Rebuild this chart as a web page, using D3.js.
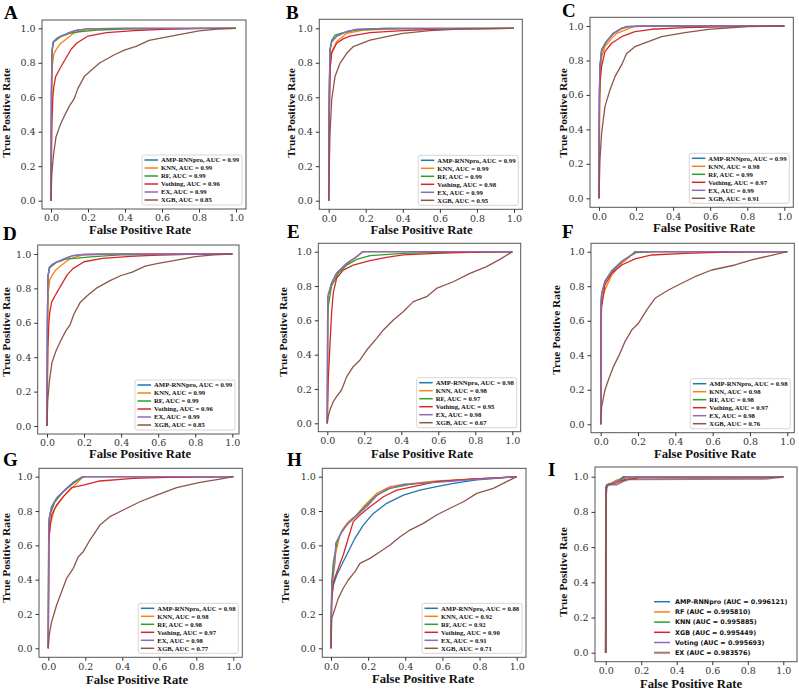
<!DOCTYPE html>
<html><head><meta charset="utf-8">
<script src="https://cdn.jsdelivr.net/npm/d3@7/dist/d3.min.js"></script>
<style>html,body{margin:0;padding:0;background:#fff;}svg{display:block;}</style>
</head><body>
<svg id="chart" width="799" height="691"></svg>
<script>
// ---------- data ----------
const ticks = [0, 0.2, 0.4, 0.6, 0.8, 1.0];
const tickLabels = ["0.0", "0.2", "0.4", "0.6", "0.8", "1.0"];
const seriesAH = ["AMP-RNNpro", "KNN", "RF", "Vothing", "EX", "XGB"];
const seriesI = ["AMP-RNNpro", "RF", "KNN", "XGB", "Voting", "EX"];
const aucA = ["0.99", "0.99", "0.99", "0.96", "0.99", "0.85"];
const aucB = ["0.99", "0.99", "0.99", "0.98", "0.99", "0.95"];
const aucC = ["0.99", "0.98", "0.99", "0.97", "0.99", "0.91"];
const aucD = ["0.99", "0.99", "0.99", "0.96", "0.99", "0.85"];
const aucE = ["0.98", "0.98", "0.97", "0.95", "0.98", "0.67"];
const aucF = ["0.98", "0.98", "0.98", "0.97", "0.98", "0.76"];
const aucG = ["0.98", "0.98", "0.98", "0.97", "0.98", "0.77"];
const aucH = ["0.88", "0.92", "0.92", "0.90", "0.91", "0.71"];
const aucI = ["0.996121", "0.995810", "0.995885", "0.995449", "0.995693", "0.983576"];

const curvesA = [
  [[0,0],[0.002,0.6],[0.005,0.86],[0.012,0.92],[0.03,0.94],[0.05,0.952],[0.08,0.965],[0.1,0.975],[0.14,0.99],[0.2,0.997],[0.4,1],[1,1]],
  [[0,0],[0.003,0.5],[0.007,0.78],[0.015,0.85],[0.03,0.88],[0.05,0.91],[0.085,0.94],[0.12,0.97],[0.16,0.985],[0.2,0.995],[0.3,1],[1,1]],
  [[0,0],[0.003,0.7],[0.006,0.88],[0.015,0.92],[0.05,0.95],[0.1,0.97],[0.15,0.98],[0.25,0.99],[0.4,0.995],[1,1]],
  [[0,0],[0.005,0.45],[0.01,0.6],[0.015,0.66],[0.025,0.72],[0.05,0.77],[0.085,0.835],[0.11,0.88],[0.14,0.915],[0.2,0.955],[0.3,0.975],[0.45,0.986],[0.6,0.994],[0.8,0.999],[1,1]],
  [[0,0],[0.002,0.62],[0.005,0.86],[0.012,0.922],[0.03,0.94],[0.05,0.953],[0.08,0.966],[0.1,0.976],[0.14,0.99],[0.2,0.997],[0.4,1],[1,1]],
  [[0,0],[0.004,0.15],[0.013,0.26],[0.027,0.37],[0.05,0.44],[0.076,0.5],[0.1,0.55],[0.125,0.59],[0.145,0.65],[0.18,0.72],[0.22,0.76],[0.265,0.8],[0.34,0.845],[0.4,0.875],[0.46,0.895],[0.53,0.93],[0.6,0.945],[0.7,0.965],[0.8,0.985],[0.9,0.995],[1,1]]
];
const curvesB = [
  [[0,0],[0.003,0.6],[0.007,0.87],[0.016,0.92],[0.043,0.955],[0.097,0.98],[0.15,0.994],[0.3,1],[1,1]],
  [[0,0],[0.003,0.5],[0.008,0.78],[0.016,0.865],[0.043,0.923],[0.097,0.97],[0.187,0.99],[0.4,0.998],[1,1]],
  [[0,0],[0.003,0.65],[0.007,0.88],[0.016,0.93],[0.034,0.961],[0.097,0.98],[0.15,0.99],[0.3,0.997],[1,1]],
  [[0,0],[0.003,0.45],[0.008,0.77],[0.016,0.855],[0.043,0.913],[0.08,0.94],[0.115,0.955],[0.223,0.975],[0.4,0.986],[0.6,0.995],[1,1]],
  [[0,0],[0.003,0.62],[0.007,0.874],[0.016,0.923],[0.043,0.955],[0.097,0.98],[0.15,0.994],[0.3,1],[1,1]],
  [[0,0],[0.003,0.2],[0.007,0.39],[0.016,0.584],[0.034,0.72],[0.061,0.797],[0.097,0.855],[0.133,0.894],[0.223,0.932],[0.313,0.952],[0.4,0.971],[0.547,0.986],[0.7,0.995],[1,1]]
];
const curvesC = [
  [[0,0],[0.002,0.6],[0.005,0.764],[0.014,0.861],[0.041,0.909],[0.077,0.957],[0.122,0.986],[0.15,0.996],[0.3,1],[1,1]],
  [[0,0],[0.003,0.55],[0.008,0.74],[0.014,0.82],[0.032,0.88],[0.068,0.928],[0.095,0.957],[0.12,0.967],[0.176,0.992],[0.2,1],[1,1]],
  [[0,0],[0.002,0.58],[0.005,0.75],[0.014,0.85],[0.032,0.9],[0.077,0.955],[0.122,0.985],[0.16,0.996],[0.3,1],[1,1]],
  [[0,0],[0.003,0.5],[0.005,0.667],[0.014,0.764],[0.032,0.851],[0.068,0.9],[0.122,0.938],[0.194,0.967],[0.284,0.981],[0.464,0.99],[0.8,0.998],[1,1]],
  [[0,0],[0.002,0.62],[0.005,0.77],[0.014,0.865],[0.041,0.912],[0.077,0.958],[0.122,0.987],[0.15,0.997],[0.3,1],[1,1]],
  [[0,0],[0.005,0.222],[0.014,0.377],[0.032,0.532],[0.059,0.629],[0.086,0.706],[0.122,0.774],[0.149,0.841],[0.194,0.88],[0.266,0.909],[0.338,0.938],[0.464,0.961],[0.59,0.981],[0.8,0.997],[1,1]]
];
const curvesD = [
  [[0,0],[0.002,0.6],[0.005,0.86],[0.012,0.92],[0.03,0.94],[0.05,0.952],[0.08,0.965],[0.1,0.975],[0.14,0.99],[0.2,0.997],[0.4,1],[1,1]],
  [[0,0],[0.003,0.5],[0.007,0.78],[0.015,0.85],[0.03,0.88],[0.05,0.91],[0.085,0.94],[0.12,0.97],[0.16,0.985],[0.2,0.995],[0.3,1],[1,1]],
  [[0,0],[0.003,0.7],[0.006,0.88],[0.015,0.92],[0.05,0.95],[0.1,0.97],[0.15,0.975],[0.25,0.985],[0.4,0.995],[1,1]],
  [[0,0],[0.005,0.45],[0.01,0.6],[0.015,0.66],[0.025,0.72],[0.05,0.77],[0.085,0.835],[0.11,0.88],[0.14,0.915],[0.2,0.955],[0.3,0.975],[0.45,0.986],[0.6,0.994],[0.8,0.999],[1,1]],
  [[0,0],[0.002,0.62],[0.005,0.86],[0.012,0.922],[0.03,0.94],[0.05,0.953],[0.08,0.966],[0.1,0.976],[0.14,0.99],[0.2,0.997],[0.4,1],[1,1]],
  [[0,0],[0.004,0.15],[0.013,0.26],[0.027,0.37],[0.05,0.44],[0.076,0.5],[0.1,0.55],[0.125,0.59],[0.145,0.65],[0.18,0.72],[0.22,0.76],[0.265,0.8],[0.34,0.845],[0.4,0.875],[0.46,0.895],[0.53,0.93],[0.6,0.945],[0.7,0.965],[0.8,0.985],[0.9,0.995],[1,1]]
];
const curvesE = [
  [[0,0],[0.002,0.7],[0.004,0.738],[0.023,0.816],[0.05,0.874],[0.105,0.932],[0.159,0.971],[0.186,0.996],[0.2,1],[1,1]],
  [[0,0],[0.002,0.7],[0.005,0.757],[0.032,0.835],[0.068,0.893],[0.123,0.942],[0.186,0.994],[0.2,1],[1,1]],
  [[0,0],[0.003,0.6],[0.005,0.68],[0.023,0.8],[0.06,0.874],[0.105,0.922],[0.159,0.955],[0.231,0.977],[0.41,0.99],[0.59,0.996],[1,1]],
  [[0,0],[0.005,0.25],[0.014,0.447],[0.023,0.64],[0.032,0.757],[0.05,0.845],[0.086,0.893],[0.14,0.922],[0.231,0.948],[0.32,0.967],[0.41,0.981],[0.59,0.99],[0.77,0.996],[1,1]],
  [[0,0],[0.002,0.71],[0.004,0.74],[0.023,0.818],[0.05,0.875],[0.105,0.933],[0.159,0.972],[0.19,1],[1,1]],
  [[0,0],[0.005,0.039],[0.014,0.078],[0.032,0.126],[0.05,0.155],[0.077,0.194],[0.105,0.272],[0.14,0.33],[0.177,0.369],[0.213,0.427],[0.267,0.495],[0.303,0.544],[0.357,0.602],[0.41,0.65],[0.465,0.709],[0.537,0.738],[0.59,0.786],[0.681,0.825],[0.771,0.874],[0.861,0.913],[0.933,0.955],[1,1]]
];
const curvesF = [
  [[0,0],[0.002,0.7],[0.005,0.759],[0.023,0.826],[0.059,0.884],[0.113,0.942],[0.166,0.981],[0.184,1],[1,1]],
  [[0,0],[0.002,0.65],[0.005,0.72],[0.023,0.778],[0.059,0.865],[0.113,0.932],[0.175,0.99],[0.19,1],[1,1]],
  [[0,0],[0.002,0.68],[0.005,0.75],[0.023,0.83],[0.059,0.89],[0.113,0.945],[0.166,0.982],[0.19,0.995],[0.3,1],[1,1]],
  [[0,0],[0.002,0.6],[0.005,0.68],[0.023,0.807],[0.059,0.875],[0.113,0.923],[0.184,0.958],[0.273,0.981],[0.452,0.99],[0.63,0.996],[1,1]],
  [[0,0],[0.002,0.71],[0.005,0.76],[0.023,0.828],[0.059,0.886],[0.113,0.943],[0.166,0.982],[0.184,1],[1,1]],
  [[0,0],[0.005,0.102],[0.023,0.199],[0.041,0.257],[0.068,0.334],[0.095,0.392],[0.13,0.479],[0.166,0.546],[0.202,0.585],[0.246,0.662],[0.291,0.73],[0.363,0.778],[0.434,0.817],[0.505,0.855],[0.595,0.894],[0.72,0.923],[0.809,0.952],[0.898,0.975],[1,1]]
];
const curvesG = [
  [[0,0],[0.002,0.7],[0.005,0.757],[0.018,0.825],[0.045,0.874],[0.09,0.922],[0.135,0.967],[0.18,0.996],[0.2,1],[1,1]],
  [[0,0],[0.003,0.62],[0.009,0.718],[0.036,0.816],[0.081,0.884],[0.126,0.932],[0.171,0.98],[0.186,0.996],[0.2,1],[1,1]],
  [[0,0],[0.003,0.68],[0.009,0.777],[0.036,0.854],[0.081,0.913],[0.135,0.961],[0.18,0.994],[0.2,1],[1,1]],
  [[0,0],[0.002,0.6],[0.005,0.66],[0.018,0.777],[0.045,0.835],[0.081,0.884],[0.126,0.936],[0.189,0.951],[0.279,0.975],[0.459,0.99],[0.64,0.996],[1,1]],
  [[0,0],[0.002,0.71],[0.005,0.76],[0.018,0.828],[0.045,0.876],[0.09,0.924],[0.135,0.968],[0.18,0.997],[0.2,1],[1,1]],
  [[0,0],[0.005,0.078],[0.018,0.155],[0.045,0.252],[0.072,0.33],[0.099,0.408],[0.135,0.466],[0.162,0.534],[0.189,0.563],[0.225,0.631],[0.279,0.718],[0.333,0.767],[0.405,0.806],[0.495,0.854],[0.586,0.893],[0.694,0.936],[0.82,0.967],[0.928,0.986],[1,1]]
];
const curvesH = [
  [[0,0],[0.002,0.2],[0.004,0.311],[0.013,0.369],[0.031,0.427],[0.057,0.485],[0.093,0.563],[0.129,0.641],[0.174,0.718],[0.228,0.786],[0.3,0.845],[0.39,0.893],[0.479,0.922],[0.569,0.942],[0.659,0.961],[0.785,0.981],[0.928,0.994],[1,1]],
  [[0,0],[0.002,0.2],[0.004,0.35],[0.013,0.485],[0.031,0.583],[0.048,0.66],[0.066,0.699],[0.093,0.738],[0.138,0.777],[0.183,0.835],[0.246,0.903],[0.318,0.942],[0.39,0.955],[0.569,0.975],[0.749,0.986],[1,1]],
  [[0,0],[0.002,0.25],[0.004,0.388],[0.013,0.505],[0.031,0.612],[0.057,0.68],[0.093,0.728],[0.138,0.777],[0.192,0.835],[0.246,0.893],[0.318,0.932],[0.425,0.955],[0.569,0.971],[0.749,0.984],[1,1]],
  [[0,0],[0.002,0.15],[0.004,0.272],[0.013,0.388],[0.039,0.466],[0.066,0.544],[0.093,0.641],[0.12,0.738],[0.156,0.777],[0.21,0.825],[0.282,0.883],[0.354,0.922],[0.443,0.942],[0.569,0.971],[0.749,0.986],[1,1]],
  [[0,0],[0.002,0.2],[0.004,0.35],[0.022,0.505],[0.025,0.612],[0.048,0.66],[0.084,0.718],[0.138,0.773],[0.192,0.825],[0.246,0.889],[0.3,0.928],[0.39,0.955],[0.569,0.967],[0.749,0.981],[1,1]],
  [[0,0],[0.004,0.175],[0.022,0.233],[0.039,0.291],[0.066,0.35],[0.093,0.398],[0.129,0.447],[0.156,0.495],[0.21,0.524],[0.264,0.563],[0.318,0.602],[0.372,0.65],[0.425,0.689],[0.497,0.728],[0.569,0.777],[0.641,0.816],[0.713,0.854],[0.785,0.903],[0.874,0.932],[0.946,0.971],[1,1]]
];
const curvesI = [
  [[0,0],[0.003,0.945],[0.01,0.955],[0.05,0.97],[0.08,0.985],[0.11,1],[1,1]],
  [[0,0],[0.003,0.94],[0.01,0.955],[0.03,0.96],[0.06,0.98],[0.1,0.99],[0.13,1],[1,1]],
  [[0,0],[0.003,0.94],[0.01,0.955],[0.04,0.96],[0.07,0.975],[0.1,1],[1,1]],
  [[0,0],[0.003,0.93],[0.01,0.955],[0.05,0.965],[0.08,0.975],[0.12,0.985],[0.175,0.99],[0.18,1],[1,1]],
  [[0,0],[0.003,0.94],[0.01,0.955],[0.05,0.965],[0.09,0.985],[0.12,1],[1,1]],
  [[0,0],[0.002,0.9],[0.006,0.95],[0.03,0.955],[0.06,0.955],[0.1,0.975],[0.13,0.985],[0.9,0.988],[1,1]]
];

// ---------- styles / layout ----------
const colors = ["#1f77b4", "#ff7f0e", "#2ca02c", "#d62728", "#9467bd", "#8c564b"];

const panels = [
  {L:"A", c:curvesA, auc:aucA, names:seriesAH, f:[42,20,246,209],        px:[51,236,28.3,200.7],    let:[4,19],   yl:[10,113],  xl:[140,234]},
  {L:"B", c:curvesB, auc:aucB, names:seriesAH, f:[319.3,19.3,522.3,209.3],px:[328.7,514,28.3,200.7], let:[286,19], yl:[295,113], xl:[421.5,234]},
  {L:"C", c:curvesC, auc:aucC, names:seriesAH, f:[590,17.3,793.3,207.3],  px:[599,784.3,26,198.3],   let:[562,17], yl:[567,113], xl:[704,232]},
  {L:"D", c:curvesD, auc:aucD, names:seriesAH, f:[37.7,245,239,434],      px:[47,232.3,254,426],     let:[3,240],  yl:[10,332],  xl:[140,458]},
  {L:"E", c:curvesE, auc:aucE, names:seriesAH, f:[318.3,243.3,520.7,431.7],px:[327.3,512.3,251.7,423.3], let:[287,238], yl:[287,332], xl:[422,458]},
  {L:"F", c:curvesF, auc:aucF, names:seriesAH, f:[591,243.3,794.3,432.7], px:[600.7,787.3,251.7,424.3], let:[562,238], yl:[560,330], xl:[705,458]},
  {L:"G", c:curvesG, auc:aucG, names:seriesAH, f:[39,468.3,242.3,657.3],  px:[48.3,233.3,476.7,648.3], let:[3,466],  yl:[9.5,558], xl:[137,684]},
  {L:"H", c:curvesH, auc:aucH, names:seriesAH, f:[322.3,468.3,526,657.3], px:[331,516.7,476.7,648.3], let:[287,466], yl:[289,558], xl:[423,683]},
  {L:"I", c:curvesI, auc:aucI, names:seriesI,  f:[595,467,797,661.7],     px:[605.7,783.3,476.7,652.7], let:[548,476], yl:[567,572], xl:[691,688], styleI:true}
];

const svg = d3.select("#chart");
svg.append("rect").attr("width",799).attr("height",691).attr("fill","#fff");

panels.forEach(p => {
  const g = svg.append("g").attr("class","panel-"+p.L);
  const [fl, ft, fr, fb] = p.f;
  const x = d3.scaleLinear().domain([0,1]).range([p.px[0], p.px[1]]);
  const y = d3.scaleLinear().domain([0,1]).range([p.px[3], p.px[2]]);

  // curves
  const line = d3.line().x(d => x(d[0])).y(d => y(d[1]));
  p.c.forEach((pts, i) => {
    g.append("path").attr("d", line(pts)).attr("fill","none")
      .attr("stroke", colors[i])
      .attr("stroke-width", p.styleI ? (i === 5 ? 2 : 1.5) : 1.3)
      .attr("stroke-opacity", p.styleI && i === 5 ? 0.8 : 1)
      .attr("stroke-linejoin","round");
  });

  // frame
  g.append("rect").attr("x", fl).attr("y", ft).attr("width", fr - fl).attr("height", fb - ft)
    .attr("fill","none").attr("stroke","#555").attr("stroke-width",1);

  // axes via d3 axis generators
  const xAxis = d3.axisBottom(x).tickValues(ticks).tickFormat((d,i) => tickLabels[i]).tickSize(3.5).tickPadding(2);
  const yAxis = d3.axisLeft(y).tickValues(ticks).tickFormat((d,i) => tickLabels[i]).tickSize(3.5).tickPadding(3);
  const gx = g.append("g").attr("transform", `translate(0,${fb})`).call(xAxis);
  const gy = g.append("g").attr("transform", `translate(${fl},0)`).call(yAxis);
  [gx, gy].forEach(a => {
    a.select(".domain").remove();
    a.selectAll("line").attr("stroke","#333");
    a.selectAll("text").attr("fill","#333").attr("font-family","'DejaVu Serif', serif").attr("font-size", 9.5);
  });

  // axis titles
  g.append("text").attr("x", p.xl[0]).attr("y", p.xl[1]).attr("text-anchor","middle")
    .attr("font-family","'Liberation Serif', 'Times New Roman', serif").attr("font-weight","bold")
    .attr("font-size", 12.7).attr("fill","#111").text("False Positive Rate");
  g.append("text").attr("transform", `translate(${p.yl[0]},${p.yl[1]}) rotate(-90)`).attr("text-anchor","middle")
    .attr("font-family","'Liberation Serif', 'Times New Roman', serif").attr("font-weight","bold")
    .attr("font-size", 11.4).attr("fill","#111").text("True Positive Rate");

  // panel letter
  g.append("text").attr("x", p.let[0]).attr("y", p.let[1])
    .attr("font-family","'Liberation Serif', 'Times New Roman', serif").attr("font-weight","bold")
    .attr("font-size", 19).attr("fill","#000").text(p.L);

  // legend
  if (!p.styleI) {
    const lw = 100, lh = 50;
    const lx = fr - 4 - lw, ly = fb - 4 - lh;
    const lg = g.append("g");
    lg.append("rect").attr("x", lx).attr("y", ly).attr("width", lw).attr("height", lh).attr("rx", 2)
      .attr("fill","#fff").attr("fill-opacity",0.9).attr("stroke","#ccc").attr("stroke-width",0.8);
    p.names.forEach((n, i) => {
      const ry = ly + 5 + i * 8;
      lg.append("line").attr("x1", lx + 2.5).attr("x2", lx + 16).attr("y1", ry).attr("y2", ry)
        .attr("stroke", colors[i]).attr("stroke-width", 1.5);
      lg.append("text").attr("x", lx + 19).attr("y", ry).attr("dy","0.33em")
        .attr("font-family","'Liberation Serif', 'Times New Roman', serif").attr("font-weight","bold")
        .attr("font-size", 6.7).attr("fill","#111").text(`${n}, AUC = ${p.auc[i]}`);
    });
  } else {
    const lg = g.append("g");
    p.names.forEach((n, i) => {
      const ry = 601.7 + i * 10.2;
      lg.append("line").attr("x1", 654).attr("x2", 670).attr("y1", ry).attr("y2", ry)
        .attr("stroke", colors[i]).attr("stroke-width", i === 5 ? 2 : 1.5).attr("stroke-opacity", i === 5 ? 0.8 : 1);
      lg.append("text").attr("x", 675).attr("y", ry).attr("dy","0.35em")
        .attr("font-family","'DejaVu Sans', sans-serif").attr("font-weight","bold")
        .attr("font-size", 6.4).attr("fill","#111").text(`${n} (AUC = ${p.auc[i]})`);
    });
  }
});
</script>
</body></html>
